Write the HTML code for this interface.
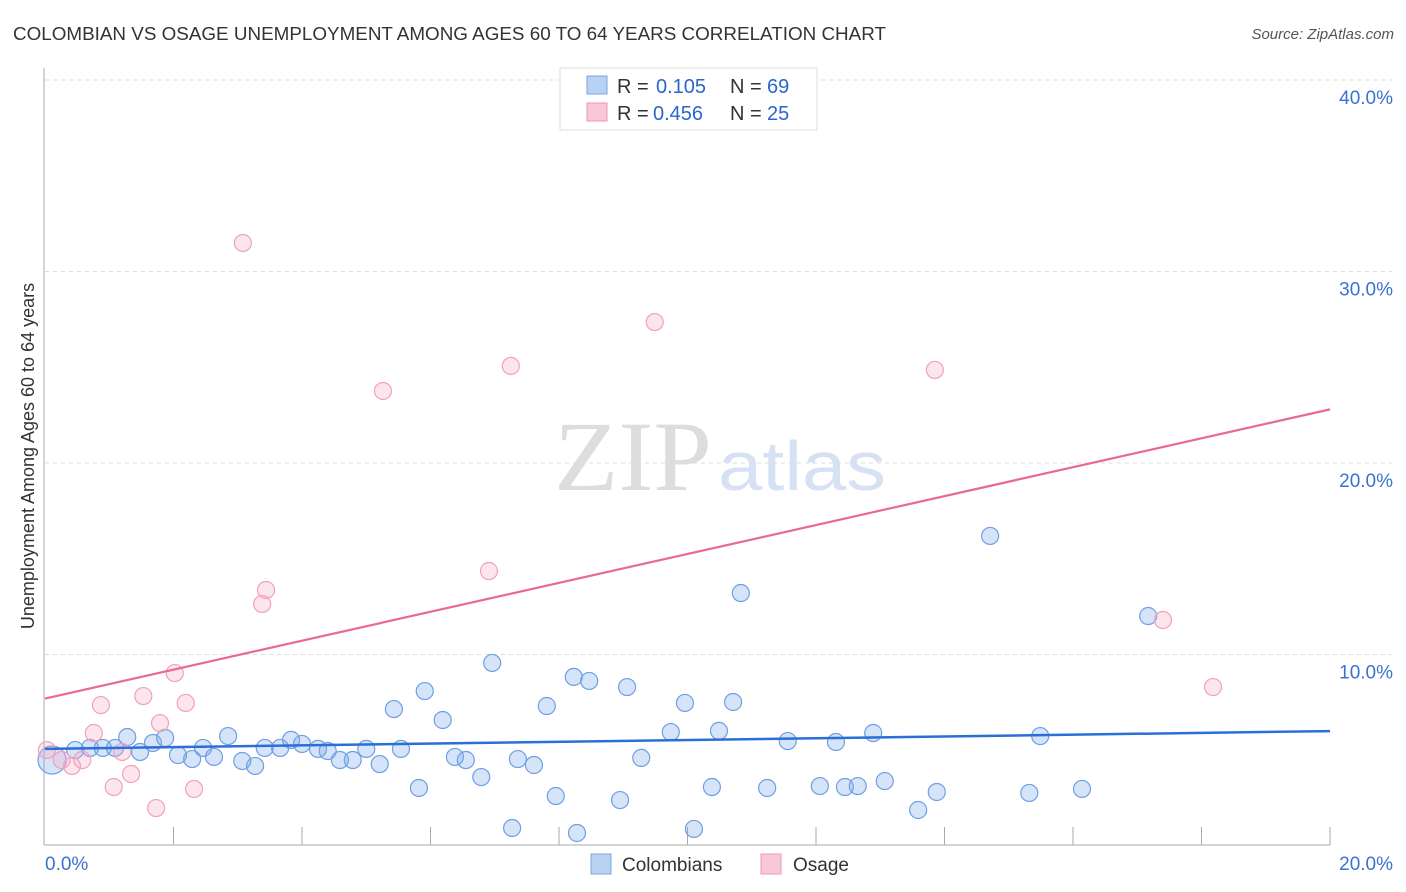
<!DOCTYPE html>
<html><head><meta charset="utf-8"><style>
body{margin:0;background:#fff;font-family:"Liberation Sans",sans-serif;}
#wrap{position:relative;width:1406px;height:892px;overflow:hidden;}
</style></head><body>
<div id="wrap">
<svg id="svg" width="1406" height="892" xmlns="http://www.w3.org/2000/svg">
<text x="13" y="40" font-size="18" fill="#333" textLength="873" lengthAdjust="spacingAndGlyphs">COLOMBIAN VS OSAGE UNEMPLOYMENT AMONG AGES 60 TO 64 YEARS CORRELATION CHART</text>
<text x="1394" y="39" font-size="15" fill="#555" font-style="italic" text-anchor="end">Source: ZipAtlas.com</text>
<text x="712" y="490" font-size="100" fill="#ddd" font-family="Liberation Serif,serif" text-anchor="end" textLength="158" lengthAdjust="spacingAndGlyphs">ZIP</text>
<text x="718" y="490" font-size="70" fill="#d6e2f4" textLength="168" lengthAdjust="spacingAndGlyphs">atlas</text>
<g id="grid"></g><g id="axes"></g><g id="pts"></g><g id="lines"></g>
<text transform="translate(34,456) rotate(-90)" font-size="18" fill="#333" text-anchor="middle">Unemployment Among Ages 60 to 64 years</text>
<g>
<rect x="560" y="68" width="257" height="62" fill="#fff" stroke="#ddd"/>
<rect x="587" y="76" width="20" height="18" fill="#b8d2f4" stroke="#7aa6e0"/>
<text x="617" y="93" font-size="20" fill="#333">R =</text>
<text x="656" y="93" font-size="20" fill="#2a66cc">0.105</text>
<text x="730" y="93" font-size="20" fill="#333">N =</text>
<text x="767" y="93" font-size="20" fill="#2a66cc">69</text>
<rect x="587" y="103" width="20" height="18" fill="#f9c8d6" stroke="#ee9ab4"/>
<text x="617" y="120" font-size="20" fill="#333">R =</text>
<text x="653" y="120" font-size="20" fill="#2a66cc">0.456</text>
<text x="730" y="120" font-size="20" fill="#333">N =</text>
<text x="767" y="120" font-size="20" fill="#2a66cc">25</text>
</g>
<g>
<rect x="591" y="854" width="20" height="20" fill="#b8d2f4" stroke="#7aa6e0"/>
<text x="622" y="871" font-size="19" fill="#333">Colombians</text>
<rect x="761" y="854" width="20" height="20" fill="#f9c8d6" stroke="#ee9ab4"/>
<text x="793" y="871" font-size="19" fill="#333">Osage</text>
</g>
</svg>
<script>
const yTicks=[10,20,30,40];
const yTickLabels=["10.0%","20.0%","30.0%","40.0%"];
const xTickLabels=["0.0%","20.0%"];
const blueX=[0.11,0.47,0.70,0.90,1.09,1.28,1.48,1.68,1.87,2.07,2.29,2.46,2.63,2.85,3.07,3.27,3.42,3.66,3.83,4.0,4.25,4.40,4.59,4.79,5.0,5.21,5.43,5.54,5.82,5.91,6.19,6.38,6.55,6.79,6.96,7.27,7.36,7.61,7.81,7.95,8.23,8.28,8.47,8.95,9.06,9.28,9.74,9.96,10.10,10.38,10.49,10.71,10.83,11.24,11.56,12.06,12.31,12.45,12.65,12.89,13.07,13.59,13.88,14.71,15.32,15.49,16.14,17.17];
const blueY=[4.49,5.01,5.12,5.12,5.12,5.69,4.91,5.38,5.64,4.75,4.54,5.12,4.65,5.74,4.44,4.18,5.12,5.12,5.54,5.33,5.07,4.96,4.49,4.49,5.07,4.28,7.15,5.07,3.03,8.09,6.58,4.65,4.49,3.60,9.56,0.94,4.54,4.23,7.31,2.61,8.83,0.68,8.62,2.40,8.30,4.60,5.95,7.47,0.89,3.08,6.01,7.52,13.21,3.03,5.48,3.13,5.43,3.08,3.13,5.90,3.39,1.88,2.82,16.19,2.77,5.74,2.98,12.01];
const pinkX=[0.03,0.26,0.42,0.58,0.76,0.87,1.07,1.20,1.34,1.53,1.73,1.79,2.02,2.19,2.32,3.08,3.38,3.44,5.26,6.91,7.25,9.49,13.85,17.40,18.18];
const pinkY=[5.01,4.49,4.18,4.49,5.90,7.36,3.08,4.91,3.76,7.83,1.98,6.42,9.03,7.47,2.98,31.49,12.64,13.37,23.76,14.36,25.07,27.36,24.86,11.80,8.30];
const blueLine=[5.07,6.0];
const pinkLine=[7.7,22.8];
const NS="http://www.w3.org/2000/svg";
const X0=45,X1=1330,Y0=846,PXPER=19.15;
const sx=v=>X0+(X1-X0)*v/20, sy=v=>Y0-v*PXPER;
function mk(tag,attrs,parent){const e=document.createElementNS(NS,tag);for(const k in attrs)e.setAttribute(k,attrs[k]);document.getElementById(parent).appendChild(e);return e;}
yTicks.forEach((t,i)=>{
 const l=mk('line',{x1:45,x2:1392,y1:sy(t),y2:sy(t),stroke:'#ddd','stroke-dasharray':'4,4'},'grid');
 
 
 const tx=mk('text',{x:1393,y:sy(t)+24,'font-size':19,fill:'#3a72d0','text-anchor':'end'},'grid');tx.textContent=yTickLabels[i];
 
 
});
mk('line',{x1:44,x2:44,y1:68,y2:845,stroke:'#aaa'},'axes');
mk('line',{x1:44,x2:1330,y1:845,y2:845,stroke:'#aaa'},'axes');
for(let i=1;i<=10;i++){const x=sx(i*2);const t=mk('line',{x1:x,x2:x,y1:827,y2:845,stroke:'#aaa'},'axes');
 
 }
const xl0=mk('text',{x:45,y:870,'font-size':19,fill:'#3a72d0'},'axes');xl0.textContent=xTickLabels[0];


const xl1=mk('text',{x:1393,y:870,'font-size':19,fill:'#3a72d0','text-anchor':'end'},'axes');xl1.textContent=xTickLabels[1];


blueX.forEach((v,i)=>{const c=mk('circle',{cx:sx(v),cy:sy(blueY[i]),r:i==0?14:8.5,fill:'rgba(120,165,235,0.3)',stroke:'#6e9fe2','stroke-width':1.2},'pts');
 
 });
pinkX.forEach((v,i)=>{const c=mk('circle',{cx:sx(v),cy:sy(pinkY[i]),r:8.5,fill:'rgba(245,170,195,0.3)',stroke:'#f0a2ba','stroke-width':1.2},'pts');
 
 });
const bl=mk('line',{x1:sx(0),y1:sy(blueLine[0]),x2:sx(20),y2:sy(blueLine[1]),stroke:'#2a6fd6','stroke-width':2.5},'lines');


const pl=mk('line',{x1:sx(0),y1:sy(pinkLine[0]),x2:sx(20),y2:sy(pinkLine[1]),stroke:'#e86896','stroke-width':2.2},'lines');


</script>
</div>
</body></html>
